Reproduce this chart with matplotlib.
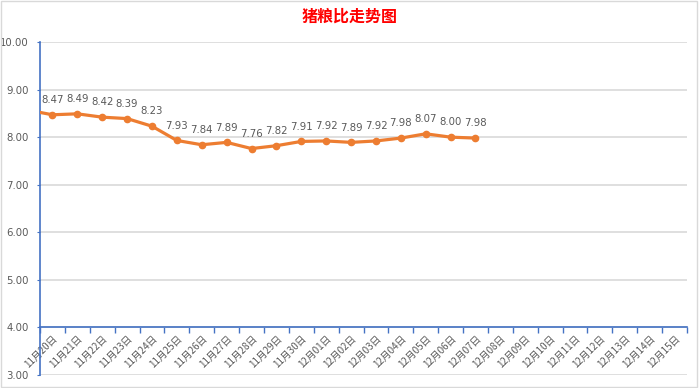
import matplotlib
matplotlib.use("Agg")
import matplotlib.pyplot as plt
from matplotlib.patches import Rectangle
from matplotlib.transforms import ScaledTranslation

plt.rcParams['font.family'] = ['Noto Sans CJK SC', 'DejaVu Sans']

title = "猪粮比走势图"
dates = ["11月20日", "11月21日", "11月22日", "11月23日", "11月24日", "11月25日",
         "11月26日", "11月27日", "11月28日", "11月29日", "11月30日", "12月01日",
         "12月02日", "12月03日", "12月04日", "12月05日", "12月06日", "12月07日",
         "12月08日", "12月09日", "12月10日", "12月11日", "12月12日", "12月13日",
         "12月14日", "12月15日"]
values = [8.47, 8.49, 8.42, 8.39, 8.23, 7.93, 7.84, 7.89, 7.76, 7.82, 7.91,
          7.92, 7.89, 7.92, 7.98, 8.07, 8.00, 7.98]
prev_value = 8.57  # point before the visible range (line enters from the left edge)
y_ticks = [3, 4, 5, 6, 7, 8, 9, 10]

blue = "#4472C4"
orange = "#ED7D31"
grey_txt = "#595959"
grid_c = "#D9D9D9"

fig = plt.figure(figsize=(7.0, 3.88), dpi=100)
ax = fig.add_axes([40/700, 1-375/388, (687-40)/700, (375-42)/388])

xs = list(range(-1, len(values)))
ys = [prev_value] + values
ax.plot(xs, ys, color=orange, lw=2.3, marker='o', ms=4.5, zorder=5,
        solid_capstyle='round')
for i, v in enumerate(values):
    ax.annotate(f"{v:.2f}", (i, v), xytext=(0, 7), textcoords='offset points',
                ha='center', va='bottom', fontsize=7.3, color=grey_txt,
                family=['DejaVu Sans'])

ax.set_xlim(-0.5, len(dates) - 0.5)
ax.set_ylim(3, 10)
ax.set_yticks(y_ticks)
ax.set_yticklabels([f"{t:.2f}" for t in y_ticks], fontsize=7.3, color=grey_txt,
                   family=['DejaVu Sans'])
ax.grid(axis='y', color=grid_c, lw=1.2, zorder=0)
ax.set_axisbelow(True)

for s in ['top', 'right']:
    ax.spines[s].set_visible(False)
ax.spines['left'].set_color(blue)
ax.spines['left'].set_linewidth(1.2)
ax.spines['bottom'].set_position(('data', 4))
ax.spines['bottom'].set_color(blue)
ax.spines['bottom'].set_linewidth(1.2)

ax.set_xticks(range(len(dates)))
ax.set_xticklabels(dates, rotation=45, ha='right', va='top',
                   rotation_mode='anchor', fontsize=7, color=grey_txt)
shift = ScaledTranslation(4/100, 0, fig.dpi_scale_trans)
for lab in ax.get_xticklabels():
    lab.set_transform(lab.get_transform() + shift)
ax.tick_params(axis='x', which='major', length=0, pad=4)
ax.set_xticks([i - 0.5 for i in range(len(dates) + 1)], minor=True)
ax.tick_params(axis='x', which='minor', length=4, color=blue, width=1)
ax.tick_params(axis='y', length=2, color=blue, pad=6)

fig.text(0.5, 1 - 17/388, title, ha='center', va='center', fontsize=11.5,
         fontweight='bold', color='#FF0000')

fig.patches.append(Rectangle((0.002, 0.003), 0.994, 0.994, transform=fig.transFigure,
                             fill=False, edgecolor='#D9D9D9', lw=1))

fig.savefig("out.png", dpi=100)
